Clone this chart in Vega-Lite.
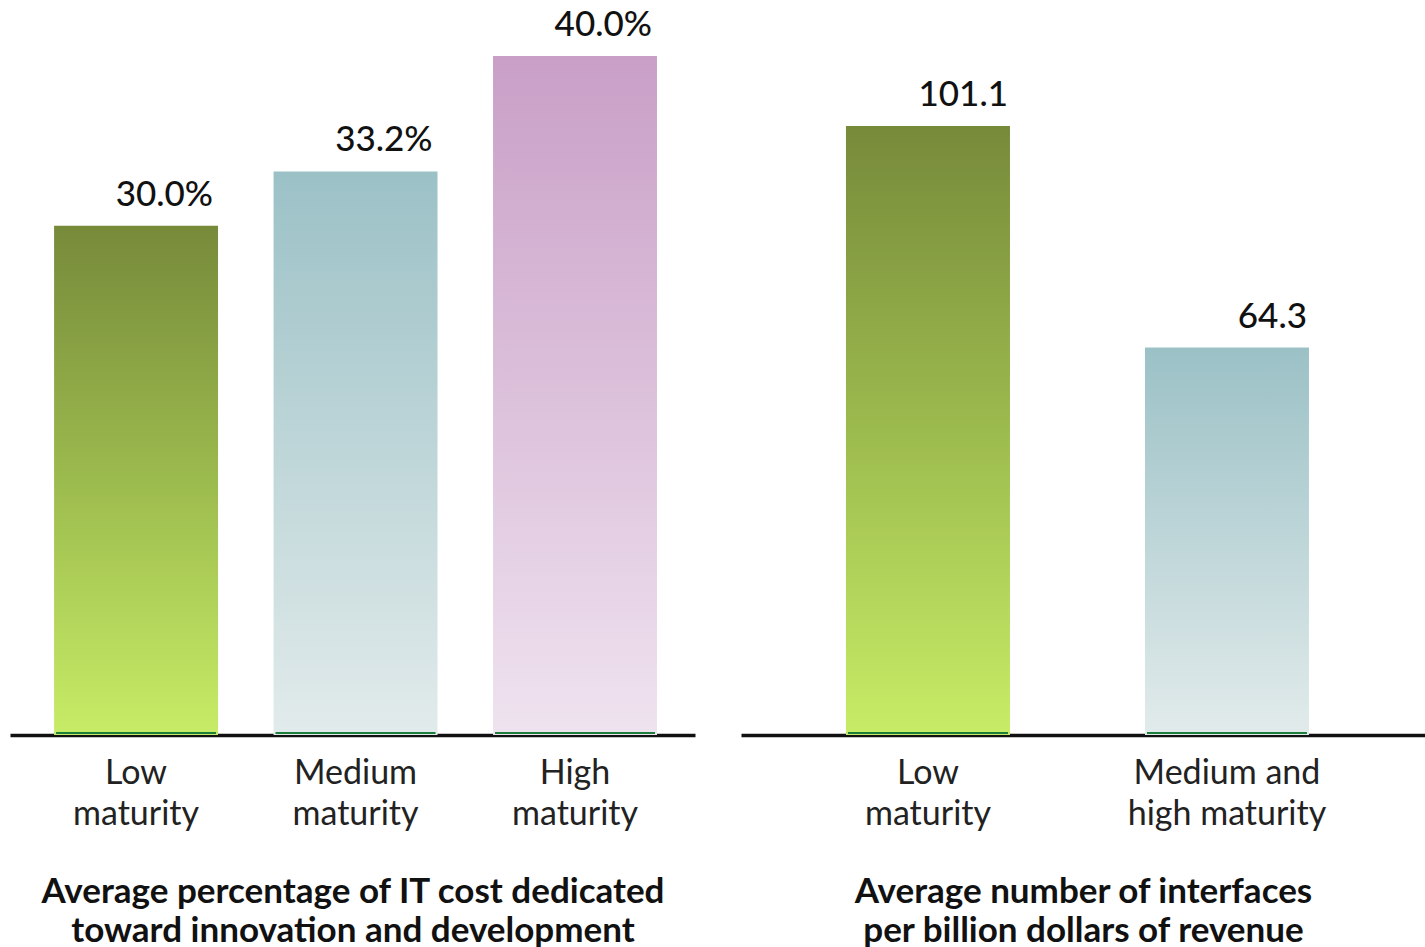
{
  "$schema": "https://vega.github.io/schema/vega-lite/v6.json",
  "padding": {"left": 10, "top": 0, "right": 0, "bottom": 0},
  "background": "white",
  "spacing": 46,
  "config": {
    "view": {"stroke": null},
    "font": "Lato",
    "axisX": {
      "domainColor": "#111111",
      "domainWidth": 3.5,
      "ticks": false,
      "labelFont": "Lato",
      "labelFontSize": 34,
      "labelColor": "#222222",
      "labelLineHeight": 41,
      "labelPadding": 21,
      "labelLimit": 0,
      "labelAngle": 0,
      "titleFont": "Lato",
      "titleFontSize": 35,
      "titleFontWeight": "bold",
      "titleColor": "#111111",
      "titleLineHeight": 39,
      "titlePadding": 43,
      "titleLimit": 0,
      "grid": false
    }
  },
  "hconcat": [
    {
      "width": 685,
      "height": 735,
      "data": {"values": [
        {"cat": "Low maturity", "value": 30.0, "label": "30.0%"},
        {"cat": "Medium maturity", "value": 33.2, "label": "33.2%"},
        {"cat": "High maturity", "value": 40.0, "label": "40.0%"}
      ]},
      "encoding": {
        "x": {
          "field": "cat", "type": "nominal", "sort": null,
          "scale": {"paddingInner": 0.253, "paddingOuter": 0.187, "align": 0.537},
          "axis": {
            "title": ["Average percentage of IT cost dedicated", "toward innovation and development"],
            "labelExpr": "split(datum.value, ' ')"
          }
        }
      },
      "layer": [
        {
          "mark": {"type": "bar"},
          "encoding": {
            "y": {"field": "value", "type": "quantitative", "scale": {"domain": [0, 43.3], "nice": false}, "axis": null},
            "fill": {
              "condition": [
                {"test": "datum.cat == 'Low maturity'", "value": {"gradient": "linear", "x1": 0, "y1": 0, "x2": 0, "y2": 1, "stops": [{"offset": 0, "color": "#778a3a"}, {"offset": 0.5, "color": "#9cbb4e"}, {"offset": 1, "color": "#c8ec66"}]}},
                {"test": "datum.cat == 'Medium maturity'", "value": {"gradient": "linear", "x1": 0, "y1": 0, "x2": 0, "y2": 1, "stops": [{"offset": 0, "color": "#9bc1c6"}, {"offset": 1, "color": "#e2ebeb"}]}}
              ],
              "value": {"gradient": "linear", "x1": 0, "y1": 0, "x2": 0, "y2": 1, "stops": [{"offset": 0, "color": "#c99fc7"}, {"offset": 1, "color": "#efe3ef"}]}
            }
          }
        },
        {
          "mark": {"type": "tick", "color": "#1b7f3b", "thickness": 2, "size": 160, "yOffset": -2, "opacity": 1},
          "encoding": {
            "y": {"datum": 0, "type": "quantitative"}
          }
        },
        {
          "mark": {"type": "text", "align": "right", "baseline": "alphabetic", "dx": -5, "dy": -20, "font": "Lato", "fontSize": 35, "fontWeight": 500, "color": "#111111"},
          "encoding": {
            "x": {"field": "cat", "type": "nominal", "sort": null, "bandPosition": 1},
            "y": {"field": "value", "type": "quantitative"},
            "text": {"field": "label"}
          }
        }
      ]
    },
    {
      "width": 684,
      "height": 735,
      "data": {"values": [
        {"cat": "Low maturity", "value": 101.1, "label": "101.1"},
        {"cat": "Medium and high maturity", "value": 64.3, "label": "64.3"}
      ]},
      "encoding": {
        "x": {
          "field": "cat", "type": "nominal", "sort": null,
          "scale": {"paddingInner": 0.4515, "paddingOuter": 0.3696, "align": 0.475},
          "axis": {
            "title": ["Average number of interfaces", "per billion dollars of revenue"],
            "labelExpr": "datum.value == 'Medium and high maturity' ? ['Medium and', 'high maturity'] : split(datum.value, ' ')"
          }
        }
      },
      "layer": [
        {
          "mark": {"type": "bar"},
          "encoding": {
            "y": {"field": "value", "type": "quantitative", "scale": {"domain": [0, 122], "nice": false}, "axis": null},
            "fill": {
              "condition": [
                {"test": "datum.cat == 'Low maturity'", "value": {"gradient": "linear", "x1": 0, "y1": 0, "x2": 0, "y2": 1, "stops": [{"offset": 0, "color": "#778a3a"}, {"offset": 0.5, "color": "#9cbb4e"}, {"offset": 1, "color": "#c8ec66"}]}}
              ],
              "value": {"gradient": "linear", "x1": 0, "y1": 0, "x2": 0, "y2": 1, "stops": [{"offset": 0, "color": "#9bc1c6"}, {"offset": 1, "color": "#e2ebeb"}]}
            }
          }
        },
        {
          "mark": {"type": "tick", "color": "#1b7f3b", "thickness": 2, "size": 160, "yOffset": -2, "opacity": 1},
          "encoding": {
            "y": {"datum": 0, "type": "quantitative"}
          }
        },
        {
          "mark": {"type": "text", "align": "right", "baseline": "alphabetic", "dx": -2, "dy": -20, "font": "Lato", "fontSize": 35, "fontWeight": 500, "color": "#111111"},
          "encoding": {
            "x": {"field": "cat", "type": "nominal", "sort": null, "bandPosition": 1},
            "y": {"field": "value", "type": "quantitative"},
            "text": {"field": "label"}
          }
        }
      ]
    }
  ]
}
